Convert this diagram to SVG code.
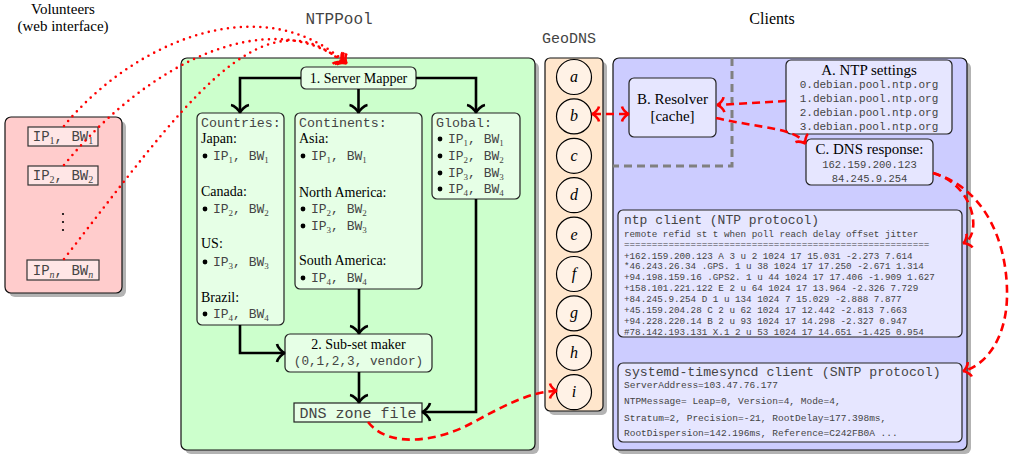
<svg xmlns="http://www.w3.org/2000/svg" width="1011" height="458" viewBox="0 0 1011 458">
<defs>
<style>
.serif{font-family:"Liberation Serif","Times New Roman",serif;fill:#000}
.mono{font-family:"Liberation Mono","Courier New",monospace;fill:#444}
.shadow{fill:#b3b3b3}
.inner{stroke:#222;stroke-width:1.2}
.blk{fill:none;stroke:#000;stroke-width:2.6;marker-end:url(#ab)}
.rdash{fill:none;stroke:#f00;stroke-width:2.6;stroke-dasharray:8 5}
.rdot{fill:none;stroke:#f00;stroke-width:2.6;stroke-linecap:round;stroke-dasharray:0 6.5}
.sub{font-family:"Liberation Serif","Times New Roman",serif}
</style>
<marker id="ab" viewBox="-9 -11 12 22" refX="0" refY="0" markerWidth="12" markerHeight="22" orient="auto" markerUnits="userSpaceOnUse">
<path d="M-7,-9 C-6.5,-5.5 -1.5,-0.6 1,0 C-1.5,0.6 -6.5,5.5 -7,9" fill="none" stroke="#000" stroke-width="2.6"/>
</marker>
<marker id="ar" viewBox="-9 -10 12 20" refX="0" refY="0" markerWidth="12" markerHeight="20" orient="auto-start-reverse" markerUnits="userSpaceOnUse">
<path d="M-6,-7.5 C-5.5,-4.5 -1.5,-0.6 1,0 C-1.5,0.6 -5.5,4.5 -6,7.5" fill="none" stroke="#f00" stroke-width="2.6"/>
</marker>
</defs>
<rect width="1011" height="458" fill="#fff"/>

<!-- Titles -->
<text class="serif" x="63" y="14" font-size="15" text-anchor="middle">Volunteers</text>
<text class="serif" x="63" y="31" font-size="15" text-anchor="middle">(web interface)</text>
<text class="mono" x="339" y="24" font-size="16" text-anchor="middle">NTPPool</text>
<text class="mono" x="569" y="43" font-size="15" text-anchor="middle">GeoDNS</text>
<text class="serif" x="772" y="24" font-size="16" text-anchor="middle">Clients</text>

<!-- Volunteers -->
<g id="volunteers">
<rect class="shadow" x="9" y="121" width="117" height="176" rx="6"/>
<rect x="5" y="117" width="117" height="176" rx="6" fill="#ffcccc" stroke="#111" stroke-width="1.2"/>
<g id="ip1">
<rect x="28" y="127" width="70" height="19" fill="#ffe6e6" stroke="#333" stroke-width="1.2"/>
<text class="mono" x="63" y="141" font-size="14" text-anchor="middle">IP<tspan class="sub" font-size="10" dy="3">1</tspan><tspan dy="-3">, BW</tspan><tspan class="sub" font-size="10" dy="3">1</tspan></text>
</g>
<g id="ip2">
<rect x="28" y="166" width="70" height="19" fill="#ffe6e6" stroke="#333" stroke-width="1.2"/>
<text class="mono" x="63" y="180" font-size="14" text-anchor="middle">IP<tspan class="sub" font-size="10" dy="3">2</tspan><tspan dy="-3">, BW</tspan><tspan class="sub" font-size="10" dy="3">2</tspan></text>
</g>
<circle cx="63" cy="214" r="1.1" fill="#000"/>
<circle cx="63" cy="222" r="1.1" fill="#000"/>
<circle cx="63" cy="230" r="1.1" fill="#000"/>
<g id="ipn">
<rect x="27" y="260" width="72" height="20" fill="#ffe6e6" stroke="#333" stroke-width="1.2"/>
<text class="mono" x="63" y="275" font-size="14" text-anchor="middle">IP<tspan class="sub" font-size="10" font-style="italic" dy="3">n</tspan><tspan dy="-3">, BW</tspan><tspan class="sub" font-size="10" font-style="italic" dy="3">n</tspan></text>
</g>
</g>

<!-- NTPPool -->
<g id="ntppool">
<rect class="shadow" x="185" y="62" width="354" height="392" rx="6"/>
<rect x="181" y="58" width="354" height="392" rx="6" fill="#ccffcc" stroke="#111" stroke-width="1.2"/>
</g>
<g id="server-mapper">
<rect class="inner" x="301" y="67" width="115" height="22" rx="5" fill="#e6ffe6"/>
<text class="serif" x="358.5" y="83" font-size="14" text-anchor="middle">1. Server Mapper</text>
</g>
<g id="countries">
<rect class="inner" x="197" y="113" width="87" height="212" rx="5" fill="#e6ffe6"/>
<text class="mono" x="201" y="127" font-size="13.3">Countries:</text>
<text class="serif" x="201" y="143" font-size="14">Japan:</text>
<circle cx="205" cy="156" r="2.4" fill="#000"/>
<text class="mono" x="213" y="160" font-size="13">IP<tspan class="sub" font-size="9" dy="3">1</tspan><tspan dy="-3">, BW</tspan><tspan class="sub" font-size="9" dy="3">1</tspan></text>
<text class="serif" x="201" y="196" font-size="14">Canada:</text>
<circle cx="205" cy="209" r="2.4" fill="#000"/>
<text class="mono" x="213" y="213" font-size="13">IP<tspan class="sub" font-size="9" dy="3">2</tspan><tspan dy="-3">, BW</tspan><tspan class="sub" font-size="9" dy="3">2</tspan></text>
<text class="serif" x="201" y="248" font-size="14">US:</text>
<circle cx="205" cy="262" r="2.4" fill="#000"/>
<text class="mono" x="213" y="266" font-size="13">IP<tspan class="sub" font-size="9" dy="3">3</tspan><tspan dy="-3">, BW</tspan><tspan class="sub" font-size="9" dy="3">3</tspan></text>
<text class="serif" x="201" y="302" font-size="14">Brazil:</text>
<circle cx="205" cy="314" r="2.4" fill="#000"/>
<text class="mono" x="213" y="318" font-size="13">IP<tspan class="sub" font-size="9" dy="3">4</tspan><tspan dy="-3">, BW</tspan><tspan class="sub" font-size="9" dy="3">4</tspan></text>
</g>
<g id="continents">
<rect class="inner" x="295" y="113" width="127" height="176" rx="5" fill="#e6ffe6"/>
<text class="mono" x="299" y="127" font-size="13.3">Continents:</text>
<text class="serif" x="299" y="143" font-size="14">Asia:</text>
<circle cx="303" cy="156" r="2.4" fill="#000"/>
<text class="mono" x="311" y="160" font-size="13">IP<tspan class="sub" font-size="9" dy="3">1</tspan><tspan dy="-3">, BW</tspan><tspan class="sub" font-size="9" dy="3">1</tspan></text>
<text class="serif" x="299" y="197" font-size="14">North America:</text>
<circle cx="303" cy="209" r="2.4" fill="#000"/>
<text class="mono" x="311" y="213" font-size="13">IP<tspan class="sub" font-size="9" dy="3">2</tspan><tspan dy="-3">, BW</tspan><tspan class="sub" font-size="9" dy="3">2</tspan></text>
<circle cx="303" cy="226" r="2.4" fill="#000"/>
<text class="mono" x="311" y="230" font-size="13">IP<tspan class="sub" font-size="9" dy="3">3</tspan><tspan dy="-3">, BW</tspan><tspan class="sub" font-size="9" dy="3">3</tspan></text>
<text class="serif" x="299" y="265" font-size="14">South America:</text>
<circle cx="303" cy="278" r="2.4" fill="#000"/>
<text class="mono" x="311" y="282" font-size="13">IP<tspan class="sub" font-size="9" dy="3">4</tspan><tspan dy="-3">, BW</tspan><tspan class="sub" font-size="9" dy="3">4</tspan></text>
</g>
<g id="global">
<rect class="inner" x="432" y="113" width="88" height="86" rx="5" fill="#e6ffe6"/>
<text class="mono" x="436" y="127" font-size="13.3">Global:</text>
<circle cx="440" cy="139" r="2.4" fill="#000"/>
<text class="mono" x="448" y="143" font-size="13">IP<tspan class="sub" font-size="9" dy="3">1</tspan><tspan dy="-3">, BW</tspan><tspan class="sub" font-size="9" dy="3">1</tspan></text>
<circle cx="440" cy="156" r="2.4" fill="#000"/>
<text class="mono" x="448" y="160" font-size="13">IP<tspan class="sub" font-size="9" dy="3">2</tspan><tspan dy="-3">, BW</tspan><tspan class="sub" font-size="9" dy="3">2</tspan></text>
<circle cx="440" cy="173" r="2.4" fill="#000"/>
<text class="mono" x="448" y="177" font-size="13">IP<tspan class="sub" font-size="9" dy="3">3</tspan><tspan dy="-3">, BW</tspan><tspan class="sub" font-size="9" dy="3">3</tspan></text>
<circle cx="440" cy="189" r="2.4" fill="#000"/>
<text class="mono" x="448" y="193" font-size="13">IP<tspan class="sub" font-size="9" dy="3">4</tspan><tspan dy="-3">, BW</tspan><tspan class="sub" font-size="9" dy="3">4</tspan></text>
</g>
<g id="subset-maker">
<rect class="inner" x="285" y="334" width="147" height="38" rx="5" fill="#e6ffe6"/>
<text class="serif" x="358.5" y="349" font-size="14" text-anchor="middle">2. Sub-set maker</text>
<text class="mono" x="358.5" y="365" font-size="12.7" text-anchor="middle">(0,1,2,3, vendor)</text>
</g>
<g id="dns-zone-file">
<rect class="inner" x="294" y="403" width="128" height="19" fill="#e6ffe6"/>
<text class="mono" x="358" y="418" font-size="15" text-anchor="middle">DNS zone file</text>
</g>

<!-- GeoDNS -->
<g id="geodns">
<rect class="shadow" x="549" y="62" width="58" height="353" rx="5"/>
<rect x="545" y="58" width="58" height="353" rx="5" fill="#ffe6cc" stroke="#111" stroke-width="1.2"/>
</g>
<g id="geo-a"><circle cx="574" cy="77" r="17.5" fill="#fff2e6" stroke="#000" stroke-width="1.2"/><text class="serif" x="574" y="82" font-size="16" font-style="italic" text-anchor="middle">a</text></g>
<g id="geo-b"><circle cx="574" cy="116.4" r="17.5" fill="#fff2e6" stroke="#000" stroke-width="1.2"/><text class="serif" x="574" y="121.4" font-size="16" font-style="italic" text-anchor="middle">b</text></g>
<g id="geo-c"><circle cx="574" cy="155.8" r="17.5" fill="#fff2e6" stroke="#000" stroke-width="1.2"/><text class="serif" x="574" y="160.8" font-size="16" font-style="italic" text-anchor="middle">c</text></g>
<g id="geo-d"><circle cx="574" cy="195.2" r="17.5" fill="#fff2e6" stroke="#000" stroke-width="1.2"/><text class="serif" x="574" y="200.2" font-size="16" font-style="italic" text-anchor="middle">d</text></g>
<g id="geo-e"><circle cx="574" cy="234.6" r="17.5" fill="#fff2e6" stroke="#000" stroke-width="1.2"/><text class="serif" x="574" y="239.6" font-size="16" font-style="italic" text-anchor="middle">e</text></g>
<g id="geo-f"><circle cx="574" cy="274" r="17.5" fill="#fff2e6" stroke="#000" stroke-width="1.2"/><text class="serif" x="574" y="279" font-size="16" font-style="italic" text-anchor="middle">f</text></g>
<g id="geo-g"><circle cx="574" cy="313.4" r="17.5" fill="#fff2e6" stroke="#000" stroke-width="1.2"/><text class="serif" x="574" y="318.4" font-size="16" font-style="italic" text-anchor="middle">g</text></g>
<g id="geo-h"><circle cx="574" cy="352.8" r="17.5" fill="#fff2e6" stroke="#000" stroke-width="1.2"/><text class="serif" x="574" y="357.8" font-size="16" font-style="italic" text-anchor="middle">h</text></g>
<g id="geo-i"><circle cx="574" cy="392.2" r="17.5" fill="#fff2e6" stroke="#000" stroke-width="1.2"/><text class="serif" x="574" y="397.2" font-size="16" font-style="italic" text-anchor="middle">i</text></g>

<!-- Clients -->
<g id="clients">
<rect class="shadow" x="617" y="62" width="354" height="392" rx="6"/>
<rect x="613" y="58" width="354" height="392" rx="6" fill="#ccccff" stroke="#111" stroke-width="1.2"/>
<path d="M732,58 V166 H613" fill="none" stroke="#808080" stroke-width="3" stroke-dasharray="8 5"/>
</g>
<g id="resolver">
<rect class="inner" x="629" y="78" width="87" height="59" rx="5" fill="#e6e6ff"/>
<text class="serif" x="672.5" y="104" font-size="15" text-anchor="middle">B. Resolver</text>
<text class="serif" x="672.5" y="121" font-size="15" text-anchor="middle">[cache]</text>
</g>
<g id="ntp-settings">
<rect class="inner" x="786" y="60" width="166" height="74" rx="5" fill="#e6e6ff"/>
<text class="serif" x="869" y="75" font-size="15" text-anchor="middle">A. NTP settings</text>
<text class="mono" x="869" y="88" font-size="11" text-anchor="middle">0.debian.pool.ntp.org</text>
<text class="mono" x="869" y="102" font-size="11" text-anchor="middle">1.debian.pool.ntp.org</text>
<text class="mono" x="869" y="116" font-size="11" text-anchor="middle">2.debian.pool.ntp.org</text>
<text class="mono" x="869" y="130" font-size="11" text-anchor="middle">3.debian.pool.ntp.org</text>
</g>
<g id="dns-response">
<rect class="inner" x="806" y="139" width="127" height="46" rx="5" fill="#e6e6ff"/>
<text class="serif" x="869.5" y="154" font-size="15" text-anchor="middle">C. DNS response:</text>
<text class="mono" x="869.5" y="168" font-size="10.5" text-anchor="middle">162.159.200.123</text>
<text class="mono" x="869.5" y="182" font-size="10.5" text-anchor="middle">84.245.9.254</text>
</g>
<g id="ntp-client">
<rect class="inner" x="618" y="210" width="344" height="127" rx="5" fill="#e6e6ff"/>
<text class="mono" x="624" y="224" font-size="13">ntp client (NTP protocol)</text>
<g class="mono" font-size="9.25">
<text x="624" y="237">remote refid st t when poll reach delay offset jitter</text>
<text x="624" y="247">=======================================================</text>
<text x="624" y="258.5">+162.159.200.123 A 3 u 2 1024 17 15.031 -2.273 7.614</text>
<text x="624" y="269.4">*46.243.26.34 .GPS. 1 u 38 1024 17 17.250 -2.671 1.314</text>
<text x="624" y="280.3">+94.198.159.16 .GPS2. 1 u 44 1024 17 17.406 -1.909 1.627</text>
<text x="624" y="291.2">+158.101.221.122 E 2 u 64 1024 17 13.964 -2.326 7.729</text>
<text x="624" y="302.1">+84.245.9.254 D 1 u 134 1024 7 15.029 -2.888 7.877</text>
<text x="624" y="313">+45.159.204.28 C 2 u 62 1024 17 12.442 -2.813 7.663</text>
<text x="624" y="323.9">+94.228.220.14 B 2 u 93 1024 17 14.298 -2.327 0.947</text>
<text x="624" y="334.8">#78.142.193.131 X.1 2 u 53 1024 17 14.651 -1.425 0.954</text>
</g>
</g>
<g id="systemd-client">
<rect class="inner" x="618" y="363" width="344" height="79" rx="5" fill="#e6e6ff"/>
<text class="mono" x="624" y="376" font-size="13.2">systemd-timesyncd client (SNTP protocol)</text>
<g class="mono" font-size="9.5">
<text x="624" y="387.5">ServerAddress=103.47.76.177</text>
<text x="624" y="404">NTPMessage= Leap=0, Version=4, Mode=4,</text>
<text x="624" y="420.5">Stratum=2, Precision=-21, RootDelay=177.398ms,</text>
<text x="624" y="436">RootDispersion=142.196ms, Reference=C242FB0A ...</text>
</g>
</g>

<!-- Connectors -->
<g id="connectors">
<path class="blk" d="M301,78 H240 V112"/>
<path class="blk" d="M358.5,89 V112"/>
<path class="blk" d="M416,78 H476 V112"/>
<path class="blk" d="M240,325 V353 H284"/>
<path class="blk" d="M359,289 V333"/>
<path class="blk" d="M359,372 V402"/>
<path class="blk" d="M476,199 V412 H423"/>
<path class="rdot" d="M64,126 C130,45 260,-15 346,63" marker-end="url(#ar)"/>
<path class="rdot" d="M64,165 C150,60 270,5 344,62" marker-end="url(#ar)"/>
<path class="rdot" d="M64,259 C180,110 260,-10 342,62" marker-end="url(#ar)"/>
<path class="rdash" d="M368,422 C390,450 440,440 470,424 C500,408 530,391 556,391" marker-end="url(#ar)"/>
<path class="rdash" d="M786,101 L718,105" marker-end="url(#ar)"/>
<path class="rdash" d="M593,114 L628,114" marker-start="url(#ar)" marker-end="url(#ar)"/>
<path class="rdash" d="M716,118 C760,128 795,128 805,143" marker-end="url(#ar)"/>
<path class="rdash" d="M933,173 C975,185 982,235 964,243" marker-end="url(#ar)"/>
<path class="rdash" d="M933,173 C990,190 1008,250 1007,297 C1006,340 985,365 964,371" marker-end="url(#ar)"/>
</g>
</svg>
